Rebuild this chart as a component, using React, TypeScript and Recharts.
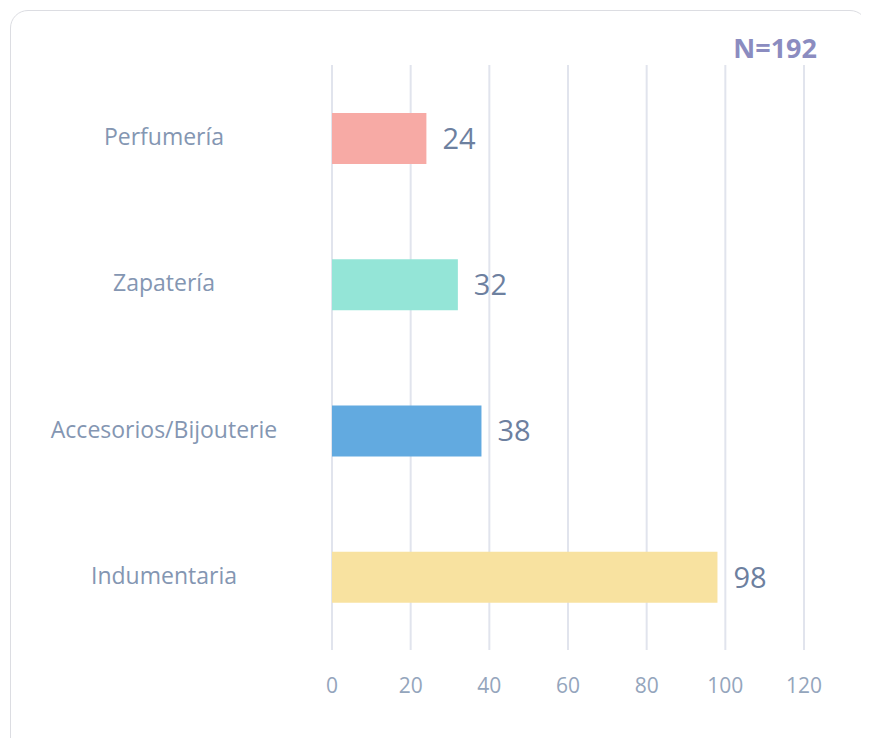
import { BarChart, Bar, XAxis, YAxis, CartesianGrid, Cell, LabelList } from 'recharts';

const categories = ['Perfumería', 'Zapatería', 'Accesorios/Bijouterie', 'Indumentaria'];
const values = [24, 32, 38, 98];
const barColors = ['#f7aaa5', '#94e5d7', '#62aae0', '#f8e2a0'];
const xTicks = [0, 20, 40, 60, 80, 100, 120];
const sampleLabel = 'N=192';

const data = categories.map((name, i) => ({ name, value: values[i] }));

const FONT = '"Open Sans", "Noto Sans", sans-serif';

// category labels sit centred in the left column
const CategoryTick = (props: any) => {
  const { y, payload } = props;
  return (
    <text x={164} y={y} dy={7} textAnchor="middle" fontFamily={FONT} fontSize={23} fill="#8496b2">
      {payload.value}
    </text>
  );
};

const ValueTick = (props: any) => {
  const { x, y, payload } = props;
  return (
    <text x={x} y={y + 35} textAnchor="middle" fontFamily={FONT} fontSize={21} fill="#94a5bc">
      {payload.value}
    </text>
  );
};

const App = () => {
  return (
    <div style={{ position: 'relative', width: 861, height: 730, overflow: 'hidden' }}>
      <div
        style={{
          position: 'absolute',
          left: 2,
          top: 2,
          width: 858,
          height: 760,
          border: '1.5px solid #dcdde2',
          borderRadius: 18,
          boxSizing: 'border-box',
          background: '#fff',
        }}
      />
      <div style={{ position: 'absolute', left: -8, top: -8 }}>
        <BarChart
          width={869}
          height={738}
          data={data}
          layout="vertical"
          margin={{ top: 65, right: 65, bottom: 8, left: 0 }}
          barSize={51}
        >
          <CartesianGrid horizontal={false} stroke="#e1e4ed" strokeWidth={2} />
          <XAxis
            type="number"
            domain={[0, 120]}
            ticks={xTicks}
            axisLine={false}
            tickLine={false}
            height={80}
            tick={<ValueTick />}
          />
          <YAxis
            type="category"
            dataKey="name"
            width={332}
            axisLine={false}
            tickLine={false}
            tick={<CategoryTick />}
          />
          <Bar dataKey="value" isAnimationActive={false}>
            {data.map((d, i) => (
              <Cell key={d.name} fill={barColors[i]} />
            ))}
            <LabelList
              dataKey="value"
              position="right"
              offset={16}
              fontFamily={FONT}
              fontSize={29}
              fill="#6d809f"
            />
          </Bar>
          <text x={817} y={58} textAnchor="end" fontFamily={FONT} fontWeight={700} fontSize={27} fill="#8b8cc0">
            {sampleLabel}
          </text>
        </BarChart>
      </div>
    </div>
  );
};

export default App;
